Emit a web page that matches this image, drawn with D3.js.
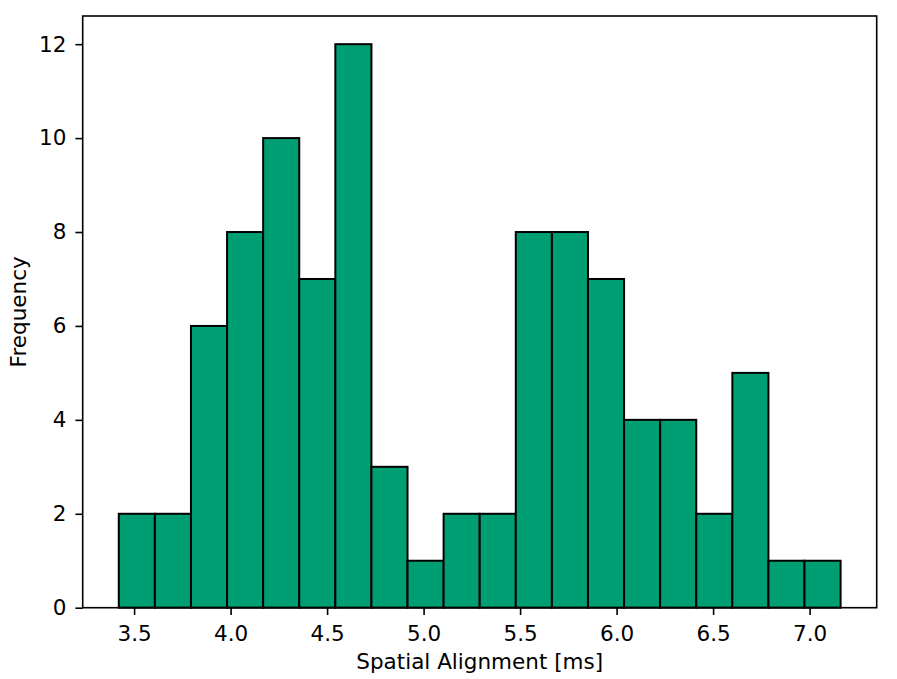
<!DOCTYPE html>
<html><head><meta charset="utf-8">
<script src="https://cdn.jsdelivr.net/npm/d3@7"></script>
<style>body{margin:0;background:#fff}svg{display:block}text{font-family:"DejaVu Sans",sans-serif;fill:#000}</style>
</head><body>
<svg id="c" width="897" height="679"></svg>
<script>
const binStart = 3.4207;
const binWidth = 0.187;
const counts = [2,2,6,8,10,7,12,3,1,2,2,8,8,7,4,4,2,5,1,1];
const xTicks = [3.5,4.0,4.5,5.0,5.5,6.0,6.5,7.0];
const yTicks = [0,2,4,6,8,10,12];
const xLabel = "Spatial Alignment [ms]";
const yLabel = "Frequency";

const bins = counts.map((c,i)=>({x0:binStart+i*binWidth, x1:binStart+(i+1)*binWidth, c}));
const m = {l:82.7, r:876.7, t:16, b:607.7};
const xmin = binStart, xmax = binStart+counts.length*binWidth, pad=(xmax-xmin)*0.05;
const x = d3.scaleLinear().domain([xmin-pad, xmax+pad]).range([m.l,m.r]);
const y = d3.scaleLinear().domain([0, d3.max(counts)*1.05]).range([m.b,m.t]);
const svg = d3.select("#c");
svg.append("g").selectAll("rect").data(bins).join("rect")
  .attr("x",d=>x(d.x0)).attr("y",d=>y(d.c))
  .attr("width",d=>x(d.x1)-x(d.x0)).attr("height",d=>y(0)-y(d.c))
  .attr("fill","#009E73").attr("stroke","#000").attr("stroke-width",2);
const fs = 21.5;
const xa = svg.append("g").attr("transform",`translate(0,${m.b})`)
  .call(d3.axisBottom(x).tickValues(xTicks).tickFormat(d3.format(".1f")).tickSize(7.3).tickPadding(5));
xa.selectAll("text").attr("y",33.5).attr("dy",0);
const ya = svg.append("g").attr("transform",`translate(${m.l},0)`)
  .call(d3.axisLeft(y).tickValues(yTicks).tickFormat(d3.format("d")).tickSize(7.3).tickPadding(9));
[xa,ya].forEach(a=>{a.select(".domain").remove();a.selectAll("line").attr("stroke","#000").attr("stroke-width",1.6);
  a.selectAll("text").attr("font-size",fs).attr("font-family","DejaVu Sans").attr("fill","#000");});
svg.append("rect").attr("x",m.l).attr("y",m.t).attr("width",m.r-m.l).attr("height",m.b-m.t)
  .attr("fill","none").attr("stroke","#000").attr("stroke-width",1.6);
svg.append("text").attr("x",(m.l+m.r)/2).attr("y",669).attr("text-anchor","middle").attr("font-size",fs).text(xLabel);
svg.append("text").attr("transform",`translate(25.5,${(m.t+m.b)/2}) rotate(-90)`).attr("text-anchor","middle").attr("font-size",fs).text(yLabel);
</script></body></html>
